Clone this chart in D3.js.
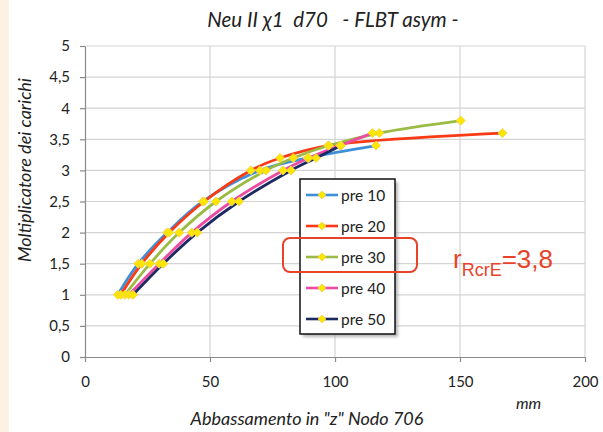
<!DOCTYPE html>
<html>
<head>
<meta charset="utf-8">
<script src="https://cdn.jsdelivr.net/npm/d3@7"></script>
<style>
  html, body { margin: 0; padding: 0; background: #ffffff; }
  svg { display: block; }
  text { font-family: Lato, "Open Sans", sans-serif; }
</style>
</head>
<body>
<svg id="chart" width="603" height="432"></svg>
<script>
// ---------- data ----------
const chartTitle = "Neu II \u03C71  d70   - FLBT asym -";
const yAxisTitle = "Moltiplicatore dei carichi";
const xAxisTitle = "Abbassamento in \"z\" Nodo 706";
const xUnit = "mm";
const xTicks = [0, 50, 100, 150, 200];
const xTickLabels = ["0", "50", "100", "150", "200"];
const yTicks = [0, 0.5, 1, 1.5, 2, 2.5, 3, 3.5, 4, 4.5, 5];
const yTickLabels = ["0", "0,5", "1", "1,5", "2", "2,5", "3", "3,5", "4", "4,5", "5"];
const seriesNames = ["pre 10", "pre 20", "pre 30", "pre 40", "pre 50"];
// [abbassamento mm, moltiplicatore]
const pre10 = [[13.1,1],[21.3,1.5],[32.9,2],[47.1,2.5],[70,3],[89,3.2],[116.4,3.4]];
const pre20 = [[14.3,1],[22.7,1.5],[33.7,2],[47.6,2.5],[66.3,3],[78,3.2],[97.3,3.4],[167,3.6]];
const pre30 = [[16,1],[26,1.5],[37.7,2],[52.4,2.5],[72.4,3],[83.3,3.2],[97.5,3.4],[117.7,3.6],[150.3,3.8]];
const pre40 = [[17.6,1],[29.7,1.5],[42.7,2],[58.7,2.5],[79.2,3],[89.5,3.2],[102,3.4],[115,3.6]];
const pre50 = [[19.2,1],[31.3,1.5],[44.9,2],[61.6,2.5],[82.4,3],[92.4,3.2],[102.4,3.4]];
const seriesColors = ["#3d8fd8", "#f93a14", "#9cbb45", "#ec4ba2", "#1c2a63"];
const annotationMain = "r";
const annotationSub = "RcrE";
const annotationTail = "=3,8";

// ---------- layout ----------
const svg = d3.select("#chart");
const x = d3.scaleLinear().domain([0, 200]).range([85, 585]);
const y = d3.scaleLinear().domain([0, 5]).range([357, 46]);
const seriesData = [pre10, pre20, pre30, pre40, pre50];

// peach slide border at left
svg.append("rect").attr("x", 0).attr("y", 0).attr("width", 9).attr("height", 432).attr("fill", "#fdf1e3");

// gridlines
svg.append("g").selectAll("line.h").data(yTicks.filter(d => d > 0)).join("line")
  .attr("x1", x(0)).attr("x2", x(200))
  .attr("y1", d => y(d)).attr("y2", d => y(d))
  .attr("stroke", "#d4d4d4").attr("stroke-width", 1.2);
svg.append("g").selectAll("line.v").data(xTicks.filter(d => d > 0)).join("line")
  .attr("x1", d => x(d)).attr("x2", d => x(d))
  .attr("y1", y(0)).attr("y2", y(5))
  .attr("stroke", "#d4d4d4").attr("stroke-width", 1.2);

// axes
const yAxis = d3.axisLeft(y).tickValues(yTicks).tickSize(5).tickSizeOuter(0)
  .tickFormat((d, i) => yTickLabels[i]).tickPadding(10);
const gy = svg.append("g").attr("transform", `translate(${x(0)},0)`).call(yAxis);
const xAxis = d3.axisBottom(x).tickValues(xTicks).tickSize(5).tickSizeOuter(0)
  .tickFormat((d, i) => xTickLabels[i]).tickPadding(14);
const gx = svg.append("g").attr("transform", `translate(0,${y(0)})`).call(xAxis);
[gx, gy].forEach(g => {
  g.select(".domain").attr("stroke", "#8a8a8a").attr("stroke-width", 1.2);
  g.selectAll(".tick line").attr("stroke", "#8a8a8a").attr("stroke-width", 1.2);
  g.selectAll(".tick text").attr("fill", "#222").style("font-size", "15px")
    .style("font-family", "Lato, sans-serif");
});

// series lines
const line = d3.line().x(d => x(d[0])).y(d => y(d[1])).curve(d3.curveCatmullRom.alpha(0.5));
seriesData.forEach((s, i) => {
  svg.append("path").datum(s).attr("d", line)
    .attr("fill", "none").attr("stroke", seriesColors[i]).attr("stroke-width", 2.8);
});
const diamond = d3.symbol().type(d3.symbolDiamond2).size(52);
seriesData.forEach((s, i) => {
  svg.append("g").selectAll("path").data(s).join("path")
    .attr("d", diamond)
    .attr("transform", d => `translate(${x(d[0])},${y(d[1])})`)
    .attr("fill", "#ffe600").attr("stroke", "#f0d24a").attr("stroke-width", 0.9);
});

// legend
const defs = svg.append("defs");
const filt = defs.append("filter").attr("id", "shadow").attr("x", "-20%").attr("y", "-20%").attr("width", "140%").attr("height", "140%");
filt.append("feGaussianBlur").attr("stdDeviation", 1.5);
const lg = svg.append("g");
lg.append("rect").attr("x", 303).attr("y", 182).attr("width", 95).attr("height", 155)
  .attr("fill", "#9a9a9a").attr("opacity", 0.7).attr("filter", "url(#shadow)");
lg.append("rect").attr("x", 300).attr("y", 179).attr("width", 95).attr("height", 155)
  .attr("fill", "#ffffff").attr("stroke", "#111").attr("stroke-width", 1.5);
seriesNames.forEach((name, i) => {
  const cy = 195 + i * 31;
  lg.append("line").attr("x1", 306).attr("x2", 338).attr("y1", cy).attr("y2", cy)
    .attr("stroke", seriesColors[i]).attr("stroke-width", 2.6);
  lg.append("path").attr("d", d3.symbol().type(d3.symbolDiamond2).size(40)).attr("transform", `translate(322,${cy})`)
    .attr("fill", "#ffe600").attr("stroke", "#f0d24a").attr("stroke-width", 0.8);
  lg.append("text").attr("x", 341).attr("y", cy + 5.5).text(name)
    .style("font-size", "15.5px").attr("fill", "#222");
});

// red highlight box around pre 30
svg.append("rect").attr("x", 283).attr("y", 238).attr("width", 134).attr("height", 34)
  .attr("rx", 7).attr("fill", "none").attr("stroke", "#e8432a").attr("stroke-width", 2);

// annotation r_RcrE = 3,8
const ann = svg.append("text").attr("x", 453).attr("y", 268)
  .attr("fill", "#e8432a").style("font-family", "'Liberation Sans', Arial, sans-serif");
ann.append("tspan").style("font-size", "26px").text(annotationMain);
ann.append("tspan").style("font-size", "18px").attr("dy", 8).text(annotationSub);
ann.append("tspan").style("font-size", "26px").attr("dy", -8).text(annotationTail);

// titles
svg.append("text").attr("x", 333).attr("y", 27).attr("text-anchor", "middle")
  .style("font-size", "20.5px").style("font-style", "italic").style("white-space", "pre")
  .attr("fill", "#222").text(chartTitle);
svg.append("text").attr("transform", "translate(31,170) rotate(-90)").attr("text-anchor", "middle")
  .style("font-size", "18px").style("font-style", "italic").attr("fill", "#222").text(yAxisTitle);
svg.append("text").attr("x", 307).attr("y", 425).attr("text-anchor", "middle")
  .style("font-size", "18px").style("font-style", "italic").attr("fill", "#222").text(xAxisTitle);
svg.append("text").attr("x", 516).attr("y", 409)
  .style("font-size", "16px").style("font-style", "italic").attr("fill", "#222").text(xUnit);
</script>
</body>
</html>
